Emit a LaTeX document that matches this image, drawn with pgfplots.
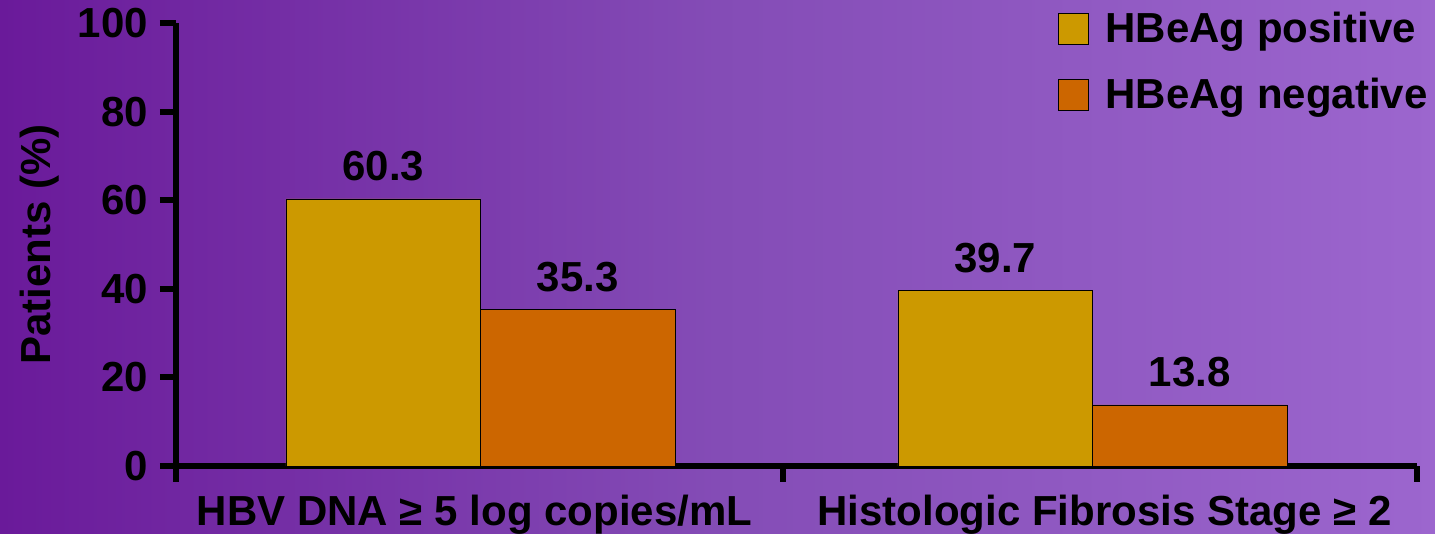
\documentclass[border=0pt]{standalone}
\usepackage{fontspec}
\setmainfont{Liberation Sans}
\usepackage{pgfplots}
\pgfplotsset{compat=1.18}
\definecolor{bgL}{RGB}{106,26,154}
\definecolor{bgM}{RGB}{132,76,182}
\definecolor{bgR}{RGB}{156,102,206}
\definecolor{posc}{RGB}{204,153,0}
\definecolor{negc}{RGB}{204,102,0}
\newcommand\bigf{\fontsize{42}{50}\selectfont\bfseries}
\begin{document}
\begin{tikzpicture}
\shade[left color=bgL, right color=bgR, middle color=bgM] (0,0) rectangle (1435pt,534pt);
\useasboundingbox (0,0) rectangle (1435pt,534pt);
\begin{axis}[
  at={(176pt,68pt)}, anchor=south west,
  scale only axis, width=1241pt, height=443pt,
  xmin=-0.4976, xmax=1.5302, ymin=0, ymax=100,
  axis x line*=bottom, axis y line*=left,
  axis line style={line width=6pt, black},
  every outer x axis line/.append style={line width=6pt},
  every outer y axis line/.append style={line width=6pt},
  ybar=0pt, bar width=0.318,
  ytick={0,20,40,60,80,100},
  xtick={-0.4976,0.4943,1.5302},
  xticklabels={},
  extra x ticks={-0.0098,1.0196},
  extra x tick labels={HBV DNA ≥ 5 log copies/mL, Histologic Fibrosis Stage ≥ 2},
  extra x tick style={major tick length=0pt},
  tick align=outside,
  major tick length=16pt,
  tick style={line width=6pt, black},
  tick label style={font=\bigf},
  yticklabel style={anchor=east, inner sep=0pt, xshift=-12pt},
  xticklabel style={yshift=-26pt},
  /pgf/number format/assume math mode=true,
  ylabel={Patients (\%)},
  ylabel style={font=\bigf, at={(axis description cs:-0.1096,0.5)}, anchor=center},
  nodes near coords,
  nodes near coords style={font=\bigf, black, anchor=base, yshift=18pt, /pgf/number format/fixed, /pgf/number format/precision=1, /pgf/number format/fixed zerofill},
  legend style={at={(0.7104,1.0294)}, anchor=north west, draw=none, fill=none, font=\bigf, inner sep=0pt, row sep=30pt, column sep=15pt, legend cell align=left},
  clip=false,
]
\addplot[fill=posc, draw=black, line width=0.6pt, bar shift=-0.159,
  legend image code/.code={\draw[fill=posc,draw=black,line width=0.6pt] (0pt,-16pt) rectangle (30pt,15pt);}]
  coordinates {(0,60.3) (1,39.7)};
\addplot[fill=negc, draw=black, line width=0.6pt, bar shift=0.159,
  legend image code/.code={\draw[fill=negc,draw=black,line width=0.6pt] (0pt,-16pt) rectangle (30pt,15pt);}]
  coordinates {(0,35.3) (1,13.8)};
\legend{HBeAg positive, HBeAg negative}
\end{axis}
\end{tikzpicture}
\end{document}
